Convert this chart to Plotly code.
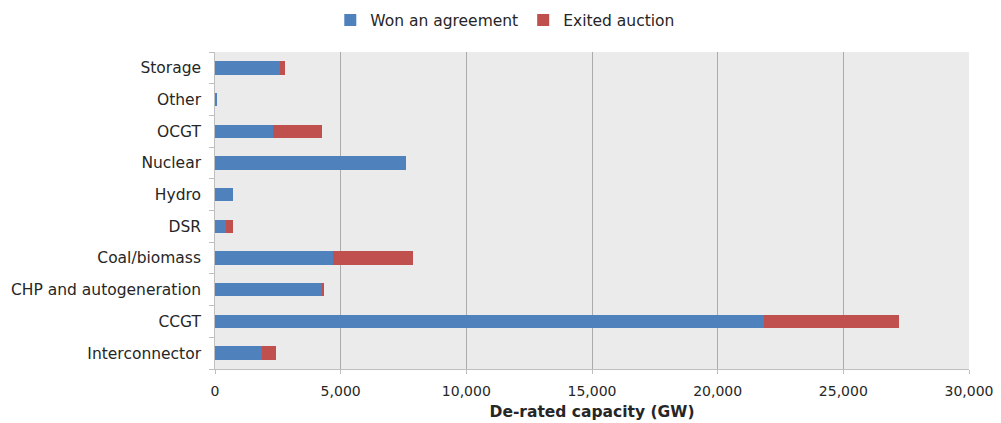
import plotly.graph_objects as go

# Categorías (de abajo hacia arriba)
technologies = [
    "Interconnector", "CCGT", "CHP and autogeneration", "Coal/biomass",
    "DSR", "Hydro", "Nuclear", "OCGT", "Other", "Storage",
]

# Capacidad (GW) por serie
won_agreement = [1880, 21840, 4270, 4710, 440, 730, 7590, 2320, 80, 2600]
exited_auction = [545, 5380, 80, 3180, 260, 0, 0, 1930, 0, 200]

x_ticks = [0, 5000, 10000, 15000, 20000, 25000, 30000]

FONT = "DejaVu Sans"

fig = go.Figure()

fig.add_trace(go.Bar(
    y=technologies,
    x=won_agreement,
    orientation='h',
    name='Won an agreement',
    marker=dict(color='#4F81BD', line=dict(width=0)),
))

fig.add_trace(go.Bar(
    y=technologies,
    x=exited_auction,
    orientation='h',
    name='Exited auction',
    marker=dict(color='#C0504D', line=dict(width=0)),
))

# la página añade 8px de margen al cuerpo, por eso los márgenes van compensados
fig.update_layout(
    barmode='stack',
    bargap=0.58,
    width=1001,
    height=423,
    margin=dict(l=207, r=40, t=44, b=62, autoexpand=False),
    paper_bgcolor='white',
    plot_bgcolor='#EBEBEB',
    font=dict(family=FONT, size=15.5, color='#262626'),
    legend=dict(
        orientation='h',
        x=0.385, xanchor='center',
        y=1.10, yanchor='middle',
        font=dict(size=15.5),
        itemwidth=30,
        traceorder='normal',
    ),
    xaxis=dict(
        range=[0, 30000],
        tickvals=x_ticks,
        tickformat=',d',
        showgrid=True,
        gridcolor='#ABABAB',
        gridwidth=1,
        zeroline=False,
        showline=True,
        linecolor='#BFBFBF',
        ticks='outside',
        ticklen=4,
        tickcolor='#BFBFBF',
        tickfont=dict(size=14),
        ticklabelstandoff=5,
        title=dict(text='<b>De-rated capacity (GW)</b>', font=dict(size=15.5), standoff=8),
        automargin=False,
    ),
    yaxis=dict(
        showgrid=False,
        showline=True,
        linecolor='#BFBFBF',
        ticks='outside',
        tickson='boundaries',
        ticklen=5,
        tickcolor='#BFBFBF',
        tickfont=dict(size=15.5),
        ticksuffix='  ',
        automargin=False,
    ),
)

fig.write_html("out.html")
